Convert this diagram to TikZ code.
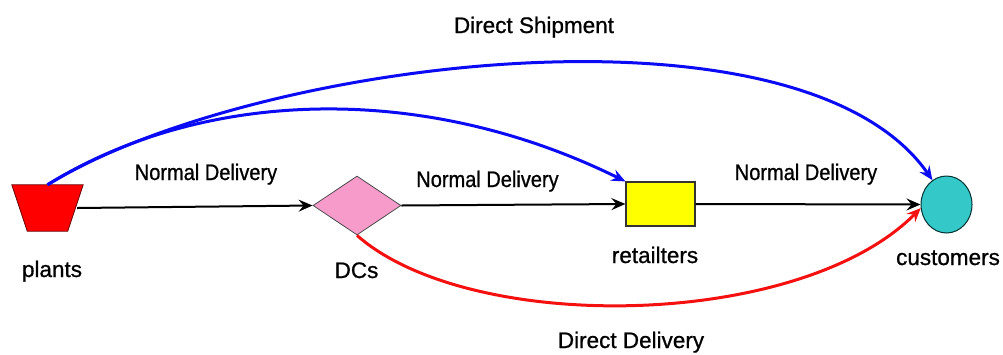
\documentclass[tikz,border=0pt]{standalone}
\usepackage{fontspec}
\setmainfont{Liberation Sans}[FakeBold=0.8]
\newfontfamily\narrowfont[FakeStretch=0.89,FakeBold=0.8]{Liberation Sans}
\usetikzlibrary{shapes.geometric,arrows.meta}
\definecolor{plantred}{HTML}{FF0000}
\definecolor{dcpink}{HTML}{F79BCB}
\definecolor{retyellow}{HTML}{FFFF00}
\definecolor{custcyan}{HTML}{35C8C8}
\definecolor{shipblue}{HTML}{0A0AF5}
\definecolor{delred}{HTML}{F51010}
\tikzset{
  lbl/.style={anchor=base, inner sep=0pt, font=\fontsize{22.5}{27}\selectfont},
  nlbl/.style={anchor=base, inner sep=0pt, font=\narrowfont\fontsize{22.5}{27}\selectfont},
  tip/.style={-{Stealth[length=14pt,width=12pt,inset=5pt]}},
  normal/.style={tip, draw=black, line width=2pt},
  ship/.style={tip, draw=shipblue, line width=3pt},
  dlv/.style={tip, draw=delred, line width=3pt},
}
\begin{document}
\begin{tikzpicture}[x=1pt,y=-1pt]
\useasboundingbox (0,0) rectangle (1003,354);
% nodes
\node[rectangle, minimum width=71pt, minimum height=46pt, inner sep=0pt] (pl) at (47.5,208) {};
\fill[plantred, draw=black!60!red, line width=0.8pt]
  (pl.north west) -- (pl.north east) -- ([xshift=-15.5pt]pl.south east)
  -- ([xshift=15.5pt]pl.south west) -- cycle;
\coordinate (plr) at ([xshift=-6pt]pl.east);
\node[diamond, minimum width=88pt, minimum height=59pt, inner sep=0pt,
      fill=dcpink, draw=black!70, line width=0.8pt] (dc) at (357,205.5) {};
\node[rectangle, minimum width=69pt, minimum height=44pt, inner sep=0pt,
      fill=retyellow, draw=black!80, line width=1.2pt] (rt) at (660.5,204) {};
\node[ellipse, minimum width=51pt, minimum height=57pt, inner sep=0pt,
      fill=custcyan, draw=black!60!teal, line width=1pt] (cu) at (946.5,204.5) {};
% labels
\node[lbl] (lpl) at (52,277) {plants};
\node[lbl] (ldc) at (356.5,278) {DCs};
\node[lbl] (lrt) at (655,263) {retailters};
\node[lbl] (lcu) at (948,265) {customers};
\node[lbl] (lds) at (534,33) {Direct Shipment};
\node[lbl] (ldd) at (631,348) {Direct Delivery};
\node[nlbl] (ln1) at (206,180) {Normal Delivery};
\node[nlbl] (ln2) at (487.5,187) {Normal Delivery};
\node[nlbl] (ln3) at (806,180) {Normal Delivery};
% connectors
\draw[normal] (plr) -- (dc.west);
\draw[normal] (dc.east) -- (rt.west);
\draw[normal] (rt.east) -- (cu.west);
\draw[ship] (pl.north) .. controls (250,60) and (800,-10) .. (cu.120);
\draw[ship] (pl.north) .. controls (200,90) and (420,80) .. (rt.north west);
\draw[dlv] (dc.south) .. controls (470,335) and (800,330) .. (cu.188);
\end{tikzpicture}
\end{document}
